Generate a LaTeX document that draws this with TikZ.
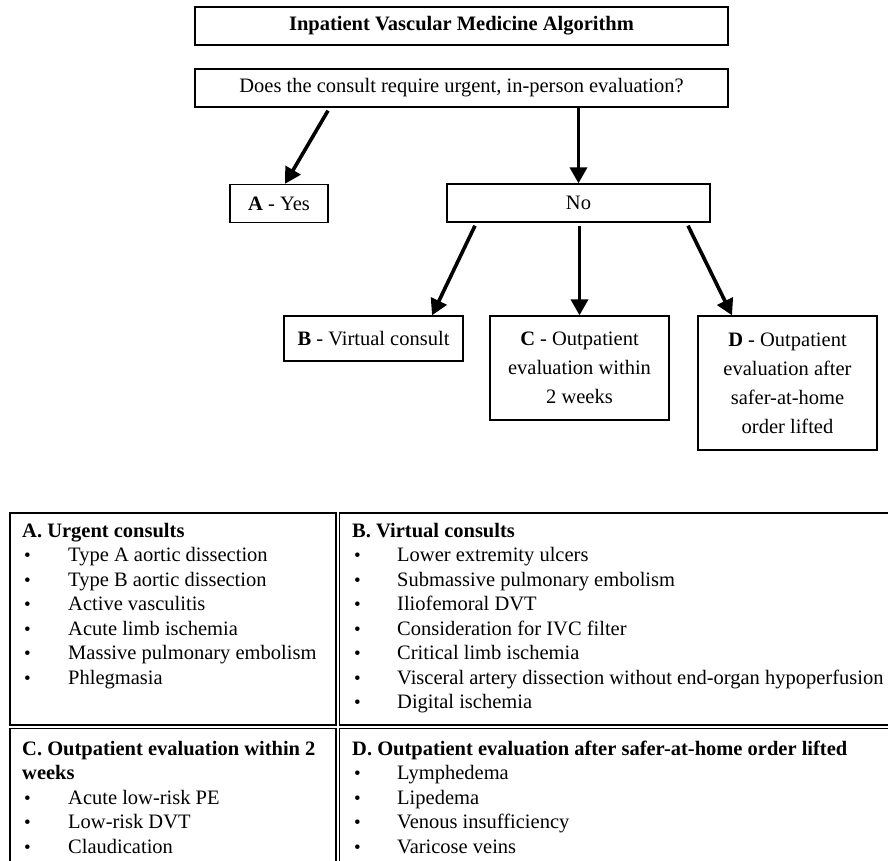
\documentclass[tikz,border=0pt]{standalone}
\usepackage{fontspec}
\setmainfont{Liberation Serif}
\usetikzlibrary{arrows.meta,positioning}

\begin{document}
\begin{tikzpicture}[x=1pt, y=-1pt,
                    box/.style={draw, line width=1.3pt, inner sep=0, align=center,
                                font=\fontsize{20.5}{29}\selectfont},
                    arr/.style={line width=3.6pt, -{Triangle[length=16pt, width=17pt]}},
                    cell/.style={draw, line width=1.2pt},
                    txt/.style={anchor=base west, inner sep=0, font=\fontsize{20.5}{24.5}\selectfont},
                    bul/.style={txt, font=\fontsize{19}{24.5}\selectfont}]
                \useasboundingbox (0,0) rectangle (888,860);
                \clip (0,0) rectangle (888,860);

                % flow chart
                \node (title) [box, minimum width=533pt, minimum height=38pt] at (461.5,26)
                    {\textbf{Inpatient Vascular Medicine Algorithm}};
                \node (q) [box, minimum width=533pt, minimum height=38pt] at (461.5,88)
                    {Does the consult require urgent, in-person evaluation?};
                \node (yes) [box, minimum width=98pt, minimum height=38pt] at (279,203.5)
                    {\textbf{A} - Yes};
                \node (no) [box, minimum width=263pt, minimum height=38pt] at (578.5,203)
                    {No};
                \node (virt) [box, minimum width=179pt, minimum height=45pt] at (373.5,338.5)
                    {\textbf{B} - Virtual consult};
                \node (two) [box, minimum width=179pt, minimum height=104pt] at (579.5,368)
                    {\textbf{C} - Outpatient\\evaluation within\\2 weeks};
                \node (lift) [box, minimum width=179pt, minimum height=134pt] at (787.5,383)
                    {\textbf{D} - Outpatient\\evaluation after\\safer-at-home\\order lifted};

                \draw [arr] ([xshift=-133.5pt, yshift=-3pt]q.south) -- ([xshift=6pt]yes.north);
                \draw [arr] (q.south -| no.north) -- (no.north);
                \draw [arr] ([xshift=-103.5pt, yshift=-3pt]no.south) -- ([xshift=58.5pt]virt.north);
                \draw [arr] ([yshift=-3pt]no.south -| two.north) -- (two.north);
                \draw [arr] ([xshift=109.5pt, yshift=-3pt]no.south) -- ([xshift=-55.5pt]lift.north);

                % table
                \draw [cell] (10,513) rectangle (336,725);
                \draw [cell] (339.5,513) rectangle (900,725);
                \draw [cell] (10,728.5) rectangle (336,880);
                \draw [cell] (339.5,728.5) rectangle (900,880);

                \node (ha) [txt] at (22,537) {\textbf{A. Urgent consults}};
                \foreach \t [count=\i from 0] in {Type A aortic dissection, Type B aortic dissection,
                        Active vasculitis, Acute limb ischemia, Massive pulmonary embolism, Phlegmasia} {
                    \node (ab\i) [bul] at (24,{561.5+24.5*\i}) {\textbullet};
                    \node (at\i) [txt] at (68,{561.5+24.5*\i}) {\t};
                }

                \node (hb) [txt] at (352,537) {\textbf{B. Virtual consults}};
                \foreach \t [count=\i from 0] in {Lower extremity ulcers, Submassive pulmonary embolism,
                        Iliofemoral DVT, Consideration for IVC filter, Critical limb ischemia,
                        Visceral artery dissection without end-organ hypoperfusion, Digital ischemia} {
                    \node (bb\i) [bul] at (354,{561.5+24.5*\i}) {\textbullet};
                    \node (bt\i) [txt] at (397,{561.5+24.5*\i}) {\t};
                }

                \node (hc) [txt] at (22,755) {\textbf{C. Outpatient evaluation within 2}};
                \node (hc2) [txt] at (22,779.5) {\textbf{weeks}};
                \foreach \t [count=\i from 0] in {Acute low-risk PE, Low-risk DVT, Claudication} {
                    \node (cb\i) [bul] at (24,{804+24.5*\i}) {\textbullet};
                    \node (ct\i) [txt] at (68,{804+24.5*\i}) {\t};
                }

                \node (hd) [txt] at (352,755) {\textbf{D. Outpatient evaluation after safer-at-home order lifted}};
                \foreach \t [count=\i from 0] in {Lymphedema, Lipedema, Venous insufficiency, Varicose veins} {
                    \node (db\i) [bul] at (354,{779.5+24.5*\i}) {\textbullet};
                    \node (dt\i) [txt] at (397,{779.5+24.5*\i}) {\t};
                }
            \end{tikzpicture}
\end{document}
